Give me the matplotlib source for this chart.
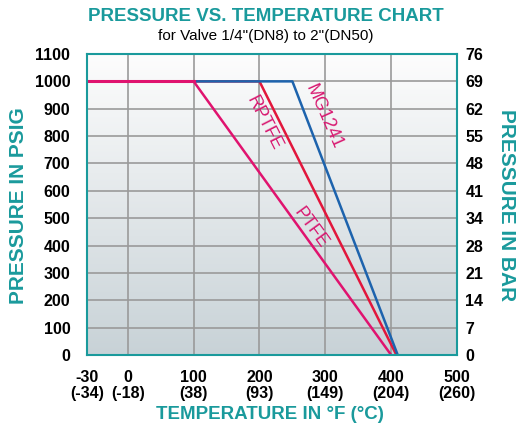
import numpy as np
from matplotlib import pyplot as plt
from matplotlib.colors import LinearSegmentedColormap

plt.rcParams['font.family'] = ['Liberation Sans', 'DejaVu Sans']

teal = '#1a9a9c'

# data (deg F, psig)
ptfe_t = [-30, 100, 400]
ptfe_p = [1000, 1000, 0]
rptfe_t = [-30, 200, 408]
rptfe_p = [1000, 1000, 0]
mg_t = [-30, 250, 410]
mg_p = [1000, 1000, 0]

x_ticks = [-30, 0, 100, 200, 300, 400, 500]
x_labels = ['-30\n(-34)', '0\n(-18)', '100\n(38)', '200\n(93)', '300\n(149)', '400\n(204)', '500\n(260)']
psig_ticks = [0, 100, 200, 300, 400, 500, 600, 700, 800, 900, 1000, 1100]
bar_labels = ['0', '7', '14', '21', '28', '34', '41', '48', '55', '62', '69', '76']


# the chart squeezes -30..0 less than the rest of the axis
def fwd(x):
    x = np.asarray(x, float)
    return np.where(x < 0, x * 62 / 30, x)


def inv(y):
    y = np.asarray(y, float)
    return np.where(y < 0, y * 30 / 62, y)


fig = plt.figure(figsize=(5.19, 4.28), dpi=100)
ax = fig.add_axes([0.1676, 0.1706, 0.7129, 0.7032])
ax.set_xscale('function', functions=(fwd, inv))
ax.set_xlim(-30, 500)
ax.set_ylim(0, 1100)

# background gradient, white at top
grad = np.linspace(0, 1, 256).reshape(-1, 1)
cmap = LinearSegmentedColormap.from_list('bg', ['#fdfdfd', '#c8d2d7'])
ax.imshow(grad, cmap=cmap, aspect='auto', transform=ax.transAxes,
          extent=[0, 1, 0, 1], origin='upper', zorder=0)

ax.set_xticks(x_ticks)
ax.set_xticklabels(x_labels, fontsize=11.5, fontweight='bold', linespacing=1.1)
ax.set_yticks(psig_ticks)
ax.set_yticklabels([str(v) for v in psig_ticks], fontsize=11.5, fontweight='bold')
ax.tick_params(length=0)
ax.tick_params(axis='x', pad=11)
ax.tick_params(axis='y', pad=12)
ax.grid(True, color='#9a9a9a', linewidth=1.2, zorder=1)
for s in ax.spines.values():
    s.set_color(teal)
    s.set_linewidth(1.5)
    s.set_zorder(6)

ax.plot(ptfe_t, ptfe_p, color='#e0136f', linewidth=1.8, zorder=3)
ax.plot(rptfe_t, rptfe_p, color='#e2163c', linewidth=1.8, zorder=3)
ax.plot(mg_t, mg_p, color='#1d63ad', linewidth=1.8, zorder=3)
ax.plot(ptfe_t[:2], ptfe_p[:2], color='#e0136f', linewidth=2.2, zorder=4)

lab_col = '#d81870'
ax.text(207, 849, 'RPTFE', color=lab_col, fontsize=13, rotation=-63,
        ha='center', va='center', rotation_mode='anchor', zorder=5)
ax.text(298, 870, 'MG1241', color=lab_col, fontsize=13, rotation=-66,
        ha='center', va='center', rotation_mode='anchor', zorder=5)
ax.text(278, 466, 'PTFE', color=lab_col, fontsize=13, rotation=-54,
        ha='center', va='center', rotation_mode='anchor', zorder=5)

ax2 = ax.twinx()
ax2.set_ylim(0, 1100)
ax2.set_yticks(psig_ticks)
ax2.set_yticklabels(bar_labels, fontsize=11.5, fontweight='bold')
ax2.tick_params(length=0, pad=6)
for s in ax2.spines.values():
    s.set_visible(False)

fig.text(0.513, 0.962, 'PRESSURE VS. TEMPERATURE CHART', color=teal,
         fontsize=13.5, fontweight='bold', ha='center', va='center')
fig.text(0.513, 0.916, 'for Valve 1/4"(DN8) to 2"(DN50)', color='black',
         fontsize=11, ha='center', va='center')
fig.text(0.52, 0.032, 'TEMPERATURE IN \u00b0F (\u00b0C)', color=teal,
         fontsize=13.5, fontweight='bold', ha='center', va='center')
fig.text(0.035, 0.52, 'PRESSURE IN PSIG', color=teal, fontsize=15,
         fontweight='bold', ha='center', va='center', rotation=90)
fig.text(0.975, 0.52, 'PRESSURE IN BAR', color=teal, fontsize=15,
         fontweight='bold', ha='center', va='center', rotation=-90)

plt.savefig('out.png', dpi=100)
